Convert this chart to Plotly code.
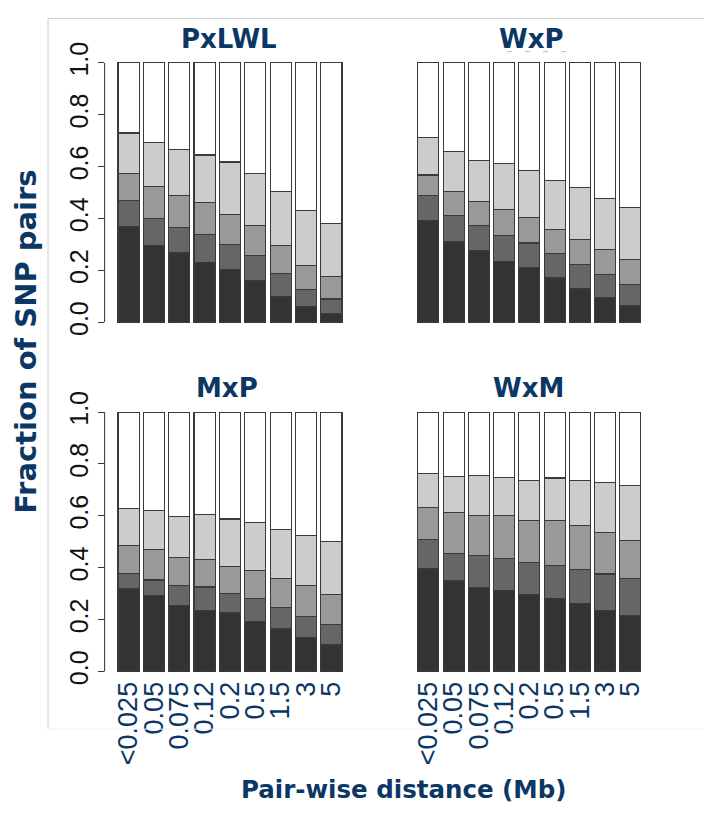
import numpy as np
import plotly.graph_objects as go

W, H = 712, 814
OFF = 8  # page body margin offset of the rendered figure

categories = ["<0.025", "0.05", "0.075", "0.12", "0.2", "0.5", "1.5", "3", "5"]
categories_wxm = ["<0.025", "0.05", "0.075", "0.12", "0.2", "0.5", "1.5", "3", "5"]
panel_titles = ["PxLWL", "WxP", "MxP", "WxM"]
y_ticks = [0.0, 0.2, 0.4, 0.6, 0.8, 1.0]

# cumulative boundaries (top of class 1..4); class 5 fills up to 1.0
pxlwl_c1 = [0.369, 0.296, 0.270, 0.229, 0.205, 0.163, 0.100, 0.060, 0.034]
pxlwl_c2 = [0.469, 0.400, 0.365, 0.338, 0.301, 0.256, 0.188, 0.125, 0.090]
pxlwl_c3 = [0.573, 0.524, 0.489, 0.463, 0.416, 0.374, 0.295, 0.220, 0.176]
pxlwl_c4 = [0.730, 0.693, 0.666, 0.645, 0.618, 0.574, 0.504, 0.431, 0.381]

wxp_c1 = [0.391, 0.310, 0.278, 0.236, 0.211, 0.171, 0.130, 0.095, 0.066]
wxp_c2 = [0.489, 0.411, 0.374, 0.336, 0.306, 0.266, 0.223, 0.183, 0.146]
wxp_c3 = [0.568, 0.504, 0.466, 0.434, 0.405, 0.359, 0.318, 0.280, 0.241]
wxp_c4 = [0.714, 0.658, 0.625, 0.611, 0.585, 0.548, 0.519, 0.478, 0.443]

mxp_c1 = [0.321, 0.292, 0.253, 0.237, 0.226, 0.193, 0.164, 0.132, 0.103]
mxp_c2 = [0.378, 0.353, 0.333, 0.326, 0.301, 0.281, 0.246, 0.213, 0.180]
mxp_c3 = [0.485, 0.470, 0.440, 0.431, 0.406, 0.391, 0.358, 0.331, 0.296]
mxp_c4 = [0.628, 0.620, 0.598, 0.604, 0.588, 0.575, 0.548, 0.526, 0.501]

wxm_c1 = [0.397, 0.351, 0.323, 0.312, 0.298, 0.283, 0.261, 0.237, 0.216]
wxm_c2 = [0.508, 0.455, 0.449, 0.435, 0.422, 0.410, 0.394, 0.376, 0.358]
wxm_c3 = [0.634, 0.613, 0.603, 0.603, 0.583, 0.583, 0.564, 0.536, 0.505]
wxm_c4 = [0.764, 0.752, 0.757, 0.748, 0.738, 0.746, 0.737, 0.728, 0.718]

panels = [
    [pxlwl_c1, pxlwl_c2, pxlwl_c3, pxlwl_c4],
    [wxp_c1, wxp_c2, wxp_c3, wxp_c4],
    [mxp_c1, mxp_c2, mxp_c3, mxp_c4],
    [wxm_c1, wxm_c2, wxm_c3, wxm_c4],
]
panel_labels = [categories, categories, categories, categories_wxm]

fills = ["#333333", "#666666", "#999999", "#cccccc", "#ffffff"]
NAVY = "#0b3765"
FONT = "Liberation Sans, Arial, sans-serif"
BOLD_FONT = "DejaVu Sans, Liberation Sans, sans-serif"

# bar geometry (R barplot style: width 1, space 0.2)
n = len(categories)
centers = [0.7 + 1.2 * i for i in range(n)]
XR = [-0.432, 11.232]
YR = [-0.015, 1.04]


def fx(px):
    return (px - OFF) / W


def fy(py):
    return 1 - (py - OFF) / H


x_domains = [[fx(104.6), fx(351.1)], [fx(404.6), fx(650.0)]]
y_domains = [[fy(324.0), fy(43.4)], [fy(682.0), fy(401.4)]]

fig = go.Figure()
layout = dict(
    width=W, height=H, margin=dict(l=0, r=0, t=0, b=0),
    paper_bgcolor="white", plot_bgcolor="white", showlegend=False,
    barmode="stack", font=dict(family=FONT),
)

annotations = []
shapes = []
title_pos = [(229, 30), (531, 30), (227, 387), (528, 387)]

for p in range(4):
    row, col = divmod(p, 2)
    k = p + 1
    xa = "x" if k == 1 else f"x{k}"
    ya = "y" if k == 1 else f"y{k}"
    cums = np.array([np.zeros(n)] + [np.array(c) for c in panels[p]] + [np.ones(n)])
    segs = np.diff(cums, axis=0)
    for j in range(5):
        fig.add_trace(go.Bar(
            x=centers, y=segs[j], width=1.0,
            marker=dict(color=fills[j], line=dict(color="#3a3a3a", width=1.1)),
            xaxis=xa, yaxis=ya, hoverinfo="skip",
        ))
    show_x = row == 1
    layout["xaxis" if k == 1 else f"xaxis{k}"] = dict(
        domain=x_domains[col], range=XR, anchor=ya,
        showgrid=False, zeroline=False, showline=False, ticks="",
        tickmode="array", tickvals=centers, ticktext=panel_labels[p],
        showticklabels=show_x, tickangle=-90,
        tickfont=dict(family=FONT, size=27, color=NAVY),
    )
    show_y = col == 0
    layout["yaxis" if k == 1 else f"yaxis{k}"] = dict(
        domain=y_domains[row], range=YR, anchor=xa,
        showgrid=False, zeroline=False, showline=False,
        tickmode="array", tickvals=y_ticks if show_y else [],
        ticktext=[f"{v:.1f}" for v in y_ticks],
        ticks="outside" if show_y else "", ticklen=6, tickcolor="#333333",
        showticklabels=show_y, tickangle=-90,
        tickfont=dict(family=FONT, size=25, color="#111111"),
    )
    if show_y:
        shapes.append(dict(type="line", xref=f"{xa} domain", yref=ya,
                           x0=0, x1=0, y0=0, y1=1,
                           line=dict(color="#333333", width=1)))
    tx, ty = title_pos[p]
    annotations.append(dict(
        text=f"<b>{panel_titles[p]}</b>", xref="paper", yref="paper",
        x=fx(tx), y=fy(ty), xanchor="center", yanchor="middle",
        showarrow=False, font=dict(family=BOLD_FONT, size=26, color=NAVY),
    ))

annotations.append(dict(
    text="<b>Fraction of SNP pairs</b>", xref="paper", yref="paper",
    x=fx(26), y=fy(340), xanchor="center", yanchor="middle",
    textangle=-90, showarrow=False, font=dict(family=BOLD_FONT, size=29, color=NAVY),
))
annotations.append(dict(
    text="<b>Pair-wise distance (Mb)</b>", xref="paper", yref="paper",
    x=fx(403), y=fy(799), xanchor="center", yanchor="middle",
    showarrow=False, font=dict(family=BOLD_FONT, size=24.5, color=NAVY),
))

# faint slide frame lines and the small dashes under the WxP title
frame = "#d0d0d0"
shapes += [
    dict(type="line", xref="paper", yref="paper", x0=fx(48), x1=1, y0=fy(8.5), y1=fy(8.5),
         line=dict(color=frame, width=1)),
    dict(type="line", xref="paper", yref="paper", x0=fx(48), x1=fx(48), y0=fy(8.5), y1=fy(737),
         line=dict(color=frame, width=1)),
    dict(type="line", xref="paper", yref="paper", x0=fx(48), x1=1, y0=fy(737), y1=fy(737),
         line=dict(color="#f0f0f0", width=1)),
    dict(type="line", xref="paper", yref="paper", x0=fx(507), x1=fx(572), y0=fy(42.5), y1=fy(42.5),
         line=dict(color="#b8b8b8", width=1, dash="5px,13px")),
]

layout["annotations"] = annotations
layout["shapes"] = shapes
fig.update_layout(**layout)
fig.write_html("out.html")
